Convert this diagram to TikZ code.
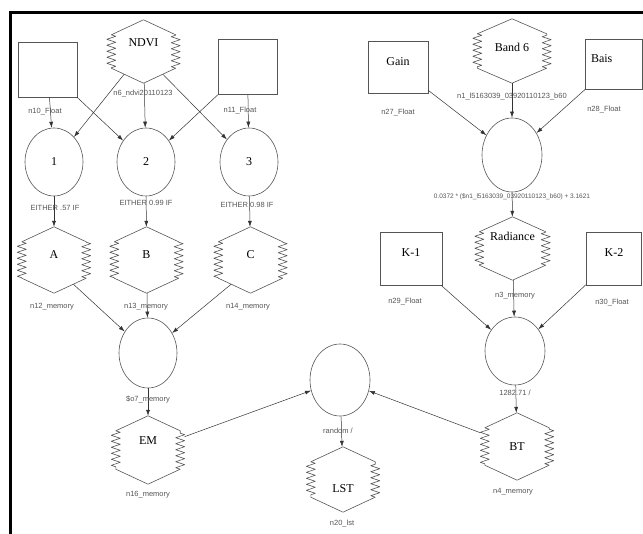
\documentclass[tikz,border=0pt]{standalone}
\usepackage{fontspec}
\setmainfont{Liberation Serif}
\newfontfamily\tagfont{Liberation Sans}
\usetikzlibrary{shapes.geometric,arrows.meta,decorations.pathmorphing,calc}
\definecolor{ink}{HTML}{333333}
\definecolor{muted}{HTML}{555555}

\begin{document}
\begin{tikzpicture}[x=1pt, y=-1pt, >={Latex[length=6pt,width=4pt]},
    font=\fontsize{12}{14}\selectfont,
    fbox/.style={draw=muted, line width=0.6pt, inner sep=0pt, minimum width=60pt, minimum height=54pt},
    ras/.style={inner sep=0pt, minimum width=73pt, minimum height=65pt},
    up/.style={text depth=#1},
    fn/.style={draw=muted, line width=0.6pt, ellipse, inner sep=0pt, minimum width=58pt, minimum height=68pt},
    tag/.style={text=muted, font=\tagfont\fontsize{7.5}{8}\selectfont, inner sep=1pt},
    link/.style={->, draw=ink, line width=0.5pt},
    rim/.style={draw=muted, line width=0.6pt, line join=round,
                decoration={zigzag, segment length=6pt, amplitude=4.5pt}}]
    \useasboundingbox (0,0) rectangle (643,534);
    \draw[line width=3pt] (10,534) -- (10,13) -- (643,13);

    % left branch: NDVI thresholds
    \node[fbox, minimum width=59pt, minimum height=55pt] (n10) at (47.5,69.5) {};
    \node[ras, minimum height=63pt, up=18pt] (ndvi) at (143.5,51.5) {NDVI};
    \node[fbox, minimum width=59pt, minimum height=55pt] (n11) at (247.5,67) {};
    \node[fn] (c1) at (54,162) {1};
    \node[fn] (c2) at (146,162) {2};
    \node[fn] (c3) at (249,162) {3};
    \node[ras, minimum height=66pt, up=10pt] (hexA) at (54,260) {A};
    \node[ras, minimum height=66pt, up=10pt] (hexB) at (146.5,260) {B};
    \node[ras, minimum height=66pt, up=10pt] (hexC) at (250.5,260) {C};
    \node[fn, minimum height=70pt] (o7) at (148,353) {};
    \node[ras, minimum height=68pt, up=18pt] (em) at (148,450) {EM};

    % right branch: band 6 to brightness temperature
    \node[fbox, minimum height=52pt, up=10pt] (gain) at (398,67) {Gain};
    \node[ras, minimum width=78pt, minimum height=64pt, up=8pt] (band6) at (512,51) {Band 6};
    \node[fbox, minimum width=57pt, minimum height=50pt, up=10pt, text width=45pt] (bais) at (613.5,64) {Bais};
    \node[fn, minimum width=60pt, minimum height=74pt] (cr1) at (512,155) {};
    \node[ras, minimum width=75pt, minimum height=63pt, up=24pt] (rad) at (512.5,248.5) {Radiance};
    \node[fbox, minimum width=62pt, minimum height=53pt, up=12pt] (k1) at (411,258.5) {K-1};
    \node[fbox, minimum width=55pt, minimum height=53pt, up=12pt] (k2) at (614,258.5) {K-2};
    \node[fn, minimum width=60pt] (cr2) at (515,351) {};
    \node[ras, minimum height=67pt] (bt) at (517,446.5) {BT};

    % result
    \node[fn, minimum width=60pt, minimum height=72pt] (cmid) at (340,380) {};
    \node[ras, text height=26pt] (lst) at (343,479.5) {LST};

    \foreach \h in {ndvi,band6,hexA,hexB,hexC,rad,em,lst,bt}{
      \draw[rim] (\h.north) -- ([xshift=4.5pt,yshift=-15pt]\h.north west)
        decorate{-- ([xshift=4.5pt,yshift=15pt]\h.south west)}
        -- (\h.south) -- ([xshift=-4.5pt,yshift=15pt]\h.south east)
        decorate{-- ([xshift=-4.5pt,yshift=-15pt]\h.north east)} -- cycle;
      \coordinate (\h-sw) at ($(\h.south)!0.6!([xshift=4.5pt,yshift=15pt]\h.south west)$);
      \coordinate (\h-se) at ($(\h.south)!0.6!([xshift=-4.5pt,yshift=15pt]\h.south east)$);
    }

    \draw[link] (n10) -- (c1);
    \draw[link] (ndvi-sw) -- (c1);
    \draw[link] (ndvi) -- (c2);
    \draw[link] (n10) -- (c2);
    \draw[link] (n11) -- (c2);
    \draw[link] (ndvi-se) -- (c3);
    \draw[link] (n11) -- (c3);
    \draw[link] (c1) -- (hexA);
    \draw[link] (c2) -- (hexB);
    \draw[link] (c3) -- (hexC);
    \draw[link] (hexA-se) -- (o7);
    \draw[link] (hexB) -- (o7);
    \draw[link] (hexC-sw) -- (o7);
    \draw[link] (o7) -- (em);
    \draw[link] (gain) -- (cr1);
    \draw[link] (band6) -- (cr1);
    \draw[link] (bais) -- (cr1);
    \draw[link] (cr1) -- (rad);
    \draw[link] (rad) -- (cr2);
    \draw[link] (k1) -- (cr2);
    \draw[link] (k2) -- (cr2);
    \draw[link] (cr2) -- (bt);
    \draw[link] (em) -- (cmid);
    \draw[link] (bt) -- (cmid);
    \draw[link] (cmid) -- (lst);

    % tags under the symbols
    \node[tag] (t10) at (45,112) {n10\_Float};
    \node[tag] (t6) at (143,94) {n6\_ndvi20110123};
    \node[tag] (t11) at (240,111) {n11\_Float};
    \node[tag] (tc1) at (55,208) {EITHER .57 IF};
    \node[tag] (tc2) at (146,203) {EITHER 0.99 IF};
    \node[tag] (tc3) at (247,205) {EITHER 0.98 IF};
    \node[tag] (t12) at (52,307) {n12\_memory};
    \node[tag] (t13) at (146,307) {n13\_memory};
    \node[tag] (t14) at (248,307) {n14\_memory};
    \node[tag] (to7) at (148,400) {\$o7\_memory};
    \node[tag] (t16) at (148,495) {n16\_memory};
    \node[tag] (tmid) at (338,431) {random /};
    \node[tag] (t20) at (342,524) {n20\_lst};
    \node[tag] (t27) at (398,113) {n27\_Float};
    \node[tag] (t1) at (512,97) {n1\_l5163039\_03920110123\_b60};
    \node[tag] (t28) at (604,110) {n28\_Float};
    \node[tag, font=\tagfont\fontsize{6.5}{7}\selectfont] (tr1) at (512,197) {0.0372 * (\$n1\_l5163039\_03920110123\_b60) + 3.1621};
    \node[tag] (t29) at (405,302) {n29\_Float};
    \node[tag] (t3) at (515,296) {n3\_memory};
    \node[tag] (t30) at (612,303) {n30\_Float};
    \node[tag] (tr2) at (515,393) {1282.71 /};
    \node[tag] (t4) at (513,492) {n4\_memory};
\end{tikzpicture}
\end{document}
